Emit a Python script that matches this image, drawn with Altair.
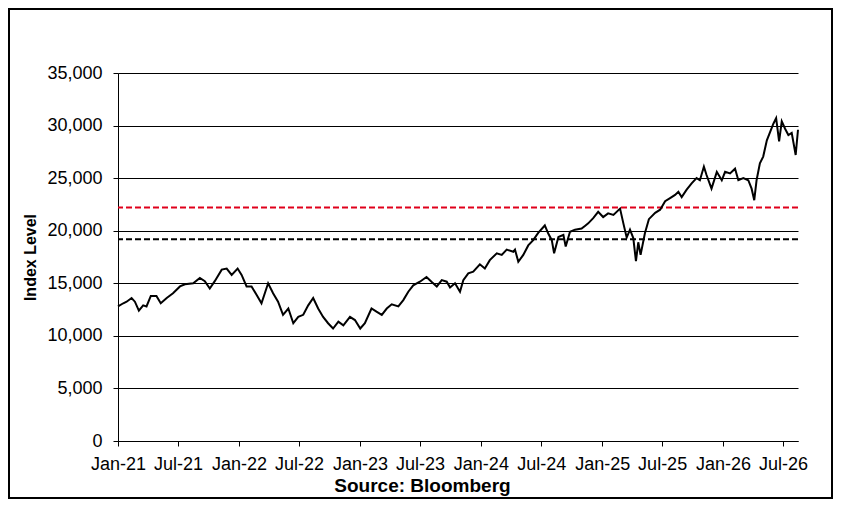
import altair as alt
import pandas as pd

dates = [
    "2021-01-01", "2021-01-17", "2021-01-27", "2021-02-11", "2021-02-21", "2021-03-05",
    "2021-03-18", "2021-03-28", "2021-04-10", "2021-04-27", "2021-05-10", "2021-05-28",
    "2021-06-16", "2021-07-07", "2021-07-22", "2021-08-16", "2021-09-05", "2021-09-20",
    "2021-10-05", "2021-10-20", "2021-11-10", "2021-11-25", "2021-12-10", "2021-12-28",
    "2022-01-09", "2022-01-24", "2022-02-08", "2022-02-23", "2022-03-10", "2022-03-30",
    "2022-04-14", "2022-04-29", "2022-05-14", "2022-05-30", "2022-06-14", "2022-06-29",
    "2022-07-14", "2022-07-29", "2022-08-13", "2022-08-28", "2022-09-12", "2022-09-27",
    "2022-10-12", "2022-10-28", "2022-11-12", "2022-12-02", "2022-12-17", "2023-01-02",
    "2023-01-16", "2023-02-05", "2023-02-20", "2023-03-08", "2023-03-23", "2023-04-07",
    "2023-04-27", "2023-05-12", "2023-05-27", "2023-06-11", "2023-07-01", "2023-07-21",
    "2023-08-05", "2023-08-21", "2023-09-05", "2023-09-20", "2023-09-30", "2023-10-15",
    "2023-10-30", "2023-11-09", "2023-11-24", "2023-12-09", "2023-12-29", "2024-01-13",
    "2024-01-28", "2024-02-18", "2024-03-04", "2024-03-19", "2024-04-08", "2024-04-13",
    "2024-04-23", "2024-05-08", "2024-05-23", "2024-06-07", "2024-06-22", "2024-07-12",
    "2024-07-22", "2024-08-02", "2024-08-09", "2024-08-22", "2024-09-06", "2024-09-13",
    "2024-09-26", "2024-10-11", "2024-10-31", "2024-11-10", "2024-11-20", "2024-12-05",
    "2024-12-20", "2025-01-04", "2025-01-19", "2025-02-04", "2025-02-24", "2025-03-06",
    "2025-03-16", "2025-03-26", "2025-04-05", "2025-04-13", "2025-04-20", "2025-04-27",
    "2025-05-10", "2025-05-22", "2025-06-10", "2025-06-25", "2025-07-10", "2025-07-25",
    "2025-08-09", "2025-08-19", "2025-08-29", "2025-09-13", "2025-09-28", "2025-10-13",
    "2025-10-23", "2025-11-04", "2025-11-12", "2025-11-27", "2025-12-13", "2025-12-28",
    "2026-01-07", "2026-01-22", "2026-02-06", "2026-02-16", "2026-03-03", "2026-03-18",
    "2026-03-28", "2026-04-05", "2026-04-12", "2026-04-22", "2026-05-02", "2026-05-13",
    "2026-05-23", "2026-06-02", "2026-06-10", "2026-06-19", "2026-06-27", "2026-07-07",
    "2026-07-17", "2026-07-27", "2026-08-08", "2026-08-15",
]
values = [
    12800, 13100, 13250, 13600, 13250, 12400,
    12900, 12800, 13800, 13800, 13100, 13600,
    14050, 14700, 14900, 15000, 15500, 15200,
    14500, 15200, 16300, 16400, 15800, 16400,
    15800, 14700, 14700, 13900, 13100, 15000,
    14050, 13250, 12000, 12600, 11200, 11800,
    12000, 12900, 13600, 12600, 11800, 11200,
    10700, 11350, 11000, 11800, 11500, 10700,
    11200, 12600, 12300, 12000, 12600, 13000,
    12800, 13400, 14200, 14800, 15150, 15600,
    15150, 14700, 15300, 15150, 14600, 15000,
    14200, 15300, 15950, 16100, 16800, 16400,
    17200, 17850, 17700, 18200, 18000, 18200,
    17050, 17700, 18600, 19100, 19800, 20500,
    19750, 19100, 17850, 19400, 19600, 18500,
    19900, 20100, 20200, 20450, 20700, 21200,
    21800, 21300, 21650, 21500, 22100, 20700,
    19350, 20100, 19300, 17100, 18900, 17700,
    19750, 21100, 21700, 22000, 22800, 23100,
    23400, 23700, 23200, 23900, 24500, 25000,
    24800, 26100, 25300, 24000, 25600, 24800,
    25600, 25450, 25900, 24800, 25000, 24800,
    24000, 22900, 24800, 26400, 27050, 28600,
    29400, 30200, 30700, 28500, 30400, 29700,
    29100, 29300, 27200, 29600,
]

red_level = [22200]
black_level = [19200]

y_ticks = [0, 5000, 10000, 15000, 20000, 25000, 30000, 35000]
x_tick_years = [2021, 2021, 2022, 2022, 2023, 2023, 2024, 2024, 2025, 2025, 2026, 2026]
x_tick_months = [1, 7, 1, 7, 1, 7, 1, 7, 1, 7, 1, 7]

df = pd.DataFrame({"date": dates, "value": values})
red_df = pd.DataFrame({"level": red_level})
black_df = pd.DataFrame({"level": black_level})

W, H = 680, 368
PAD = {"left": 110, "top": 65, "right": 35, "bottom": 58}

x_scale = alt.Scale(
    type="utc",
    domain=[
        alt.DateTime(year=2021, month=1, date=1, utc=True),
        alt.DateTime(year=2026, month=8, date=15, utc=True),
    ],
)
x_values = [alt.DateTime(year=yy, month=mm, date=1, utc=True) for yy, mm in zip(x_tick_years, x_tick_months)]

x_enc = alt.X(
    "date:T",
    scale=x_scale,
    axis=alt.Axis(
        values=x_values,
        format="%b-%y",
        title="Source: Bloomberg",
        grid=False,
        tickSize=5,
        labelPadding=9,
        labelFlush=False,
        labelOverlap=False,
        labelFontSize=18,
        titleFontSize=19,
        titleFontWeight="bold",
        titleX=304,
        titleY=50,
        titleAlign="center",
        titleBaseline="alphabetic",
    ),
)
y_enc = alt.Y(
    "value:Q",
    scale=alt.Scale(domain=[0, 35000], nice=False),
    axis=alt.Axis(
        values=y_ticks,
        format=",.0f",
        title="Index Level",
        grid=True,
        tickSize=5,
        labelPadding=11,
        labelFontSize=18,
        titleFontSize=16,
        titleFontWeight="bold",
        titleAngle=270,
        titleX=-88,
        titleY=184,
        titleAlign="center",
        titleBaseline="middle",
    ),
)

border = alt.Chart(pd.DataFrame({"a": [0]})).mark_rect(
    fillOpacity=0, stroke="black", strokeWidth=2
).encode(
    x=alt.value(-PAD["left"] + 1),
    x2=alt.value(W + PAD["right"] - 1),
    y=alt.value(-PAD["top"] + 1),
    y2=alt.value(H + PAD["bottom"] - 1),
)

line = alt.Chart(df).mark_line(color="black", strokeWidth=2).encode(x=x_enc, y=y_enc)

red_rule = alt.Chart(red_df).mark_rule(color="#e0001b", strokeWidth=2, strokeDash=[6, 3]).encode(
    y=alt.Y("level:Q")
)
black_rule = alt.Chart(black_df).mark_rule(color="black", strokeWidth=2, strokeDash=[6, 3]).encode(
    y=alt.Y("level:Q")
)

chart = (
    alt.layer(border, red_rule, black_rule, line)
    .properties(width=W, height=H, padding=PAD, autosize="none", background="white")
    .configure_view(strokeWidth=0)
    .configure_axis(
        domainColor="black",
        domainWidth=1,
        tickColor="black",
        tickWidth=1,
        gridColor="black",
        gridOpacity=1,
        gridWidth=1,
        labelColor="black",
        titleColor="black",
        labelFont="Liberation Sans",
        titleFont="Liberation Sans",
    )
)

chart.save("out.html", embed_options={"renderer": "svg", "actions": False})
